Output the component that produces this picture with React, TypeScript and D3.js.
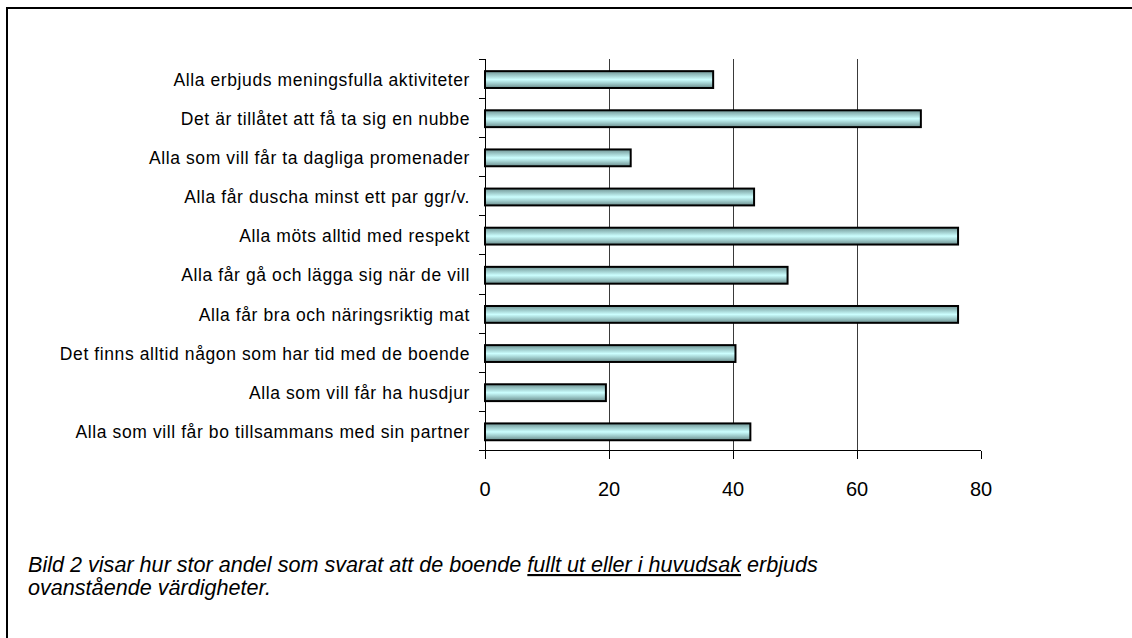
import React from "react";
import * as d3 from "d3";

const categories: string[] = [
  "Alla erbjuds meningsfulla aktiviteter",
  "Det är tillåtet att få ta sig en nubbe",
  "Alla som vill får ta dagliga promenader",
  "Alla får duscha minst ett par ggr/v.",
  "Alla möts alltid med respekt",
  "Alla får gå och lägga sig när de vill",
  "Alla får bra och näringsriktig mat",
  "Det finns alltid någon som har tid med de boende",
  "Alla som vill får ha husdjur",
  "Alla som vill får bo tillsammans med sin partner",
];

const values: number[] = [36.8, 70.3, 23.5, 43.4, 76.3, 48.8, 76.3, 40.4, 19.5, 42.8];

const xTicks: number[] = [0, 20, 40, 60, 80];
const gridTicks: number[] = [20, 40, 60];

const captionBefore = "Bild 2 visar hur stor andel som svarat att de boende ";
const captionUnderlined = "fullt ut eller i huvudsak";
const captionAfter = " erbjuds";
const captionLine2 = "ovanstående värdigheter.";

const W = 1132;
const H = 638;
const plotLeft = 485;
const plotRight = 981;
const plotTop = 59.2;
const plotBottom = 450.6;

export default function App() {
  const x = d3.scaleLinear().domain([0, 80]).range([plotLeft, plotRight]);
  const y = d3
    .scaleBand<string>()
    .domain(categories)
    .range([plotTop, plotBottom])
    .paddingInner(0.57)
    .paddingOuter(0.285);
  const step = y.step();
  const font = "'Liberation Sans', Arial, sans-serif";

  return (
    <svg
      width={W}
      height={H}
      style={{ position: "absolute", left: 0, top: 0, background: "#fff" }}
    >
      <defs>
        <linearGradient id="barGrad" x1="0" y1="0" x2="0" y2="1">
          <stop offset="0" stopColor="#6f9494" />
          <stop offset="0.3" stopColor="#a6d4d4" />
          <stop offset="0.5" stopColor="#ccffff" />
          <stop offset="0.7" stopColor="#a6d4d4" />
          <stop offset="1" stopColor="#6a8c8c" />
        </linearGradient>
      </defs>
      <rect x={0} y={0} width={W} height={H} fill="#fff" />
      {/* frame */}
      <rect x={7} y={8} width={1300} height={800} fill="none" stroke="#000" strokeWidth={2} />

      {/* gridlines */}
      {gridTicks.map((t) => (
        <line
          key={"g" + t}
          x1={x(t)}
          x2={x(t)}
          y1={plotTop}
          y2={plotBottom}
          stroke="#3a3a3a"
          strokeWidth={1}
          shapeRendering="crispEdges"
        />
      ))}

      {/* bars */}
      {categories.map((c, i) => (
        <rect
          key={"b" + i}
          x={x(0)}
          y={(y(c) as number) + 0.8}
          width={x(values[i]) - x(0)}
          height={y.bandwidth()}
          fill="url(#barGrad)"
          stroke="#000"
          strokeWidth={2}
        />
      ))}

      {/* y axis */}
      <line
        x1={plotLeft}
        x2={plotLeft}
        y1={plotTop}
        y2={plotBottom}
        stroke="#000"
        strokeWidth={1}
        shapeRendering="crispEdges"
      />
      {d3.range(categories.length + 1).map((i) => (
        <line
          key={"yt" + i}
          x1={plotLeft - 6}
          x2={plotLeft}
          y1={plotTop + i * step}
          y2={plotTop + i * step}
          stroke="#000"
          strokeWidth={1}
          shapeRendering="crispEdges"
        />
      ))}
      {categories.map((c) => (
        <text
          key={"l" + c}
          x={470}
          y={(y(c) as number) + y.bandwidth() / 2 + 0.8}
          dy="0.35em"
          textAnchor="end"
          fontFamily={font}
          fontSize={17.5}
          letterSpacing={0.6}
          fill="#000"
        >
          {c}
        </text>
      ))}

      {/* x axis */}
      <line
        x1={plotLeft}
        x2={plotRight}
        y1={plotBottom}
        y2={plotBottom}
        stroke="#000"
        strokeWidth={1}
        shapeRendering="crispEdges"
      />
      {xTicks.map((t) => (
        <g key={"xt" + t}>
          <line
            x1={x(t)}
            x2={x(t)}
            y1={plotBottom}
            y2={plotBottom + 8}
            stroke="#000"
            strokeWidth={1}
            shapeRendering="crispEdges"
          />
          <text
            x={x(t)}
            y={496}
            textAnchor="middle"
            fontFamily={font}
            fontSize={20}
            fill="#000"
          >
            {t}
          </text>
        </g>
      ))}

      {/* caption */}
      <text x={28} y={572} fontFamily={font} fontSize={21.6} fontStyle="italic" fill="#000">
        {captionBefore}
        <tspan textDecoration="underline">{captionUnderlined}</tspan>
        {captionAfter}
      </text>
      <text x={28} y={595} fontFamily={font} fontSize={21.6} fontStyle="italic" fill="#000">
        {captionLine2}
      </text>
    </svg>
  );
}
